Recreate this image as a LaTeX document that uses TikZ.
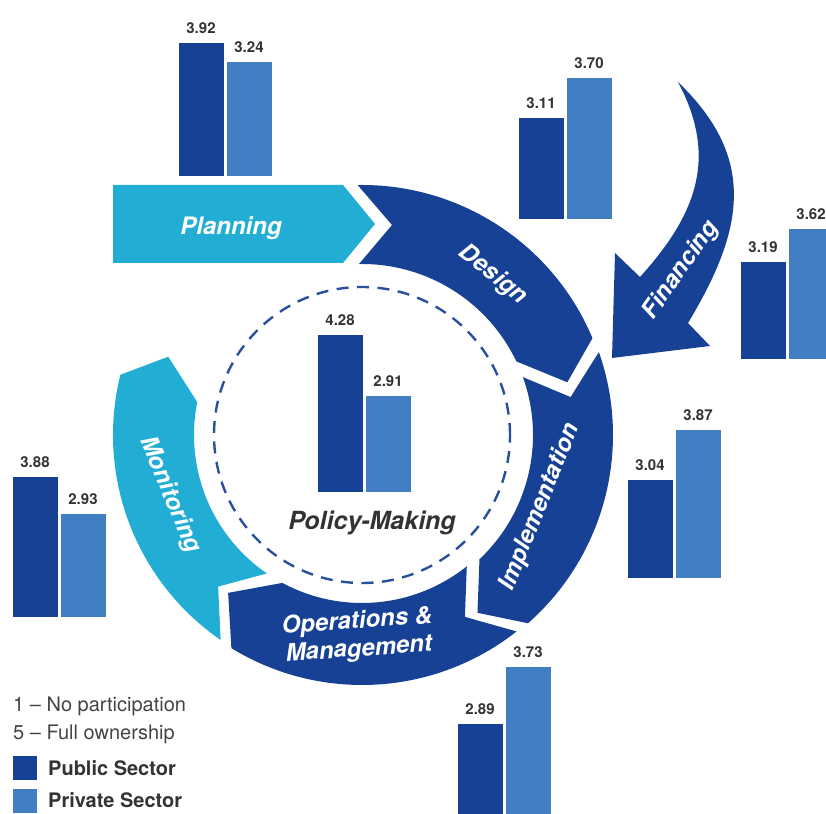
\documentclass[tikz,border=0pt]{standalone}
\usepackage{fontspec}
\setmainfont{TeX Gyre Heros}
\usetikzlibrary{calc}
\definecolor{dkblue}{RGB}{22,65,148}
\definecolor{ltbar}{RGB}{66,126,196}
\definecolor{cyanb}{RGB}{34,174,212}
\definecolor{txtgray}{RGB}{51,51,51}
\definecolor{leggray}{RGB}{68,68,68}
\newcommand\bargroup[7]{%
  \path[fill=dkblue,draw=white,line width=0.6pt] (#2,#3) rectangle (#2+46,#4);
  \path[fill=ltbar,draw=white,line width=0.6pt] (#2+48,#3) rectangle (#2+94,#5);
  \node[barlab] (#1pub) at (#2+23,#4+8) {#6};
  \node[barlab] (#1priv) at (#2+71,#5+8) {#7};
}
\begin{document}
\begin{tikzpicture}[x=1pt,y=1pt,
  barlab/.style={anchor=base,inner sep=0pt,text=txtgray,font=\bfseries\fontsize{15}{18}\selectfont},
  ringtxt/.style={text=white,align=center,inner sep=0pt,font=\bfseries\itshape\fontsize{24}{28}\selectfont},
  legtxt/.style={anchor=base west,inner sep=0pt,text=leggray,font=\fontsize{20}{24}\selectfont},
  legbold/.style={anchor=base west,inner sep=0pt,text=txtgray,font=\bfseries\fontsize{20}{24}\selectfont},
  legsq/.style={inner sep=0pt,minimum size=24pt,draw=none}]
\useasboundingbox (0,0) rectangle (826,813);
\coordinate (C) at (362,378);
% dashed circle
\draw[dkblue!92,line width=2.4pt,dash pattern=on 12pt off 8.5pt] (C) circle[radius=148];
% Planning
\fill[cyanb] (113,628) -- (343,628) -- (375,589) -- (343,550) -- (113,550) -- cycle;
% Design
\fill[dkblue] ($(C)+(91:250)$) arc[start angle=91,end angle=22.8,radius=250]
  -- ($(C)+(14.4:212)$) -- ($(C)+(25.5:171)$) arc[start angle=25.5,end angle=91,radius=171]
  -- (392,588) -- cycle;
% Implementation
\fill[dkblue] ($(C)+(19.3:251)$) arc[start angle=19.3,end angle=-48.6,radius=251]
  -- ($(C)+(-57:212)$) -- ($(C)+(-46.6:171)$) arc[start angle=-46.6,end angle=19.8,radius=171]
  -- ($(C)+(10.3:212)$) -- cycle;
% Operations & Management
\fill[dkblue] ($(C)+(-51.8:250)$) arc[start angle=-51.8,end angle=-121.5,radius=250]
  -- ($(C)+(-130.3:207)$) -- ($(C)+(-118.3:168)$) arc[start angle=-118.3,end angle=-51.4,radius=168]
  -- ($(C)+(-60.5:209)$) -- cycle;
% Monitoring
\fill[cyanb] ($(C)+(-124.6:249)$) arc[start angle=-124.6,end angle=-194,radius=249]
  -- ($(C)+(-202:209)$) -- ($(C)+(-191.3:168)$) arc[start angle=-191.3,end angle=-124.5,radius=168]
  -- ($(C)+(-133.5:209)$) -- cycle;
% Financing arrow
\fill[dkblue] (678,731) .. controls (757,655) and (744.7,584) .. (688,490)
  -- (710,467) -- (612,455) -- (615,560) -- (640,536)
  .. controls (697,599) and (718,656) .. (678,731) -- cycle;
% ring texts
\node[ringtxt,anchor=base] (plan) at (231,578) {Planning};
\node[ringtxt,rotate=-39] (design) at (493,538) {Design};
\node[ringtxt,rotate=68] (impl) at (540,306) {Implementation};
\node[ringtxt,rotate=4] (om) at (358,177) {Operations \&\\Management};
\node[ringtxt,rotate=-67] (mon) at (170,318) {Monitoring};
\node[ringtxt,rotate=55] (fin) at (681,543) {Financing};
\node[anchor=base,inner sep=0pt,text=txtgray,font=\bfseries\itshape\fontsize{25}{30}\selectfont] (policy) at (372,283) {Policy-Making};
% bars
\bargroup{plan}{178}{637}{771}{752}{3.92}{3.24}
\bargroup{des}{518}{594}{696}{736}{3.11}{3.70}
\bargroup{finb}{740}{454}{552}{585}{3.19}{3.62}
\bargroup{imp}{627}{235}{334}{384}{3.04}{3.87}
\bargroup{omb}{457}{-2}{90}{147}{2.89}{3.73}
\bargroup{monb}{12}{196}{337}{300}{3.88}{2.93}
\bargroup{pol}{317}{321}{479}{418}{4.28}{2.91}
% legend
\node[legtxt] (l1) at (13,101) {1 – No participation};
\node[legtxt] (l2) at (13,74) {5 – Full ownership};
\node[legsq,fill=dkblue] (pubsq) at (25,45) {};
\node[legbold] (l3) at (48,38) {Public Sector};
\node[legsq,fill=ltbar] (privsq) at (25,12) {};
\node[legbold] (l4) at (48,6) {Private Sector};
\end{tikzpicture}
\end{document}
